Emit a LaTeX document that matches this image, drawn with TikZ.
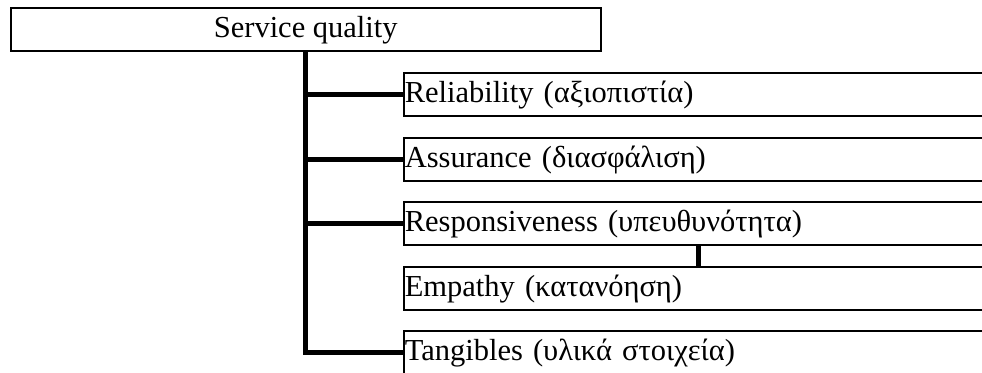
\documentclass[tikz,border=0pt]{standalone}
\usepackage{fontspec}
\setmainfont{Liberation Serif}
\usetikzlibrary{calc}
\begin{document}
\begin{tikzpicture}[x=1pt,y=-1pt,
  font=\fontsize{30.5}{36}\selectfont,
  headbox/.style={draw, line width=1.5pt, minimum width=590pt, minimum height=43pt,
    inner sep=0pt, text height=30pt, text depth=13pt, anchor=north west},
  itembox/.style={draw, line width=1.5pt, anchor=north west, inner ysep=0pt, inner xsep=1pt,
    text width=640pt, align=left, text height=30pt, text depth=13pt},
  link/.style={line width=5pt, line join=miter}]
  \useasboundingbox (0,0) rectangle (982,372);
  \clip (0,0) rectangle (982,372);
  \fill[white] (0,0) rectangle (982,372);

  % root
  \node[headbox] (root) at (10,7) {Service quality};

  % dimensions
  \node[itembox] (rel) at (403,72)  {Reliability (αξιοπιστία)};
  \node[itembox] (ass) at (403,137) {Assurance (διασφάλιση)};
  \node[itembox] (res) at (403,201) {Responsiveness (υπευθυνότητα)};
  \node[itembox] (emp) at (403,266) {Empathy (κατανόηση)};
  \node[itembox] (tan) at (403,330) {Tangibles (υλικά στοιχεία)};

  % tree connectors
  \draw[link] (root.south) |- (tan.west);
  \draw[link] (root.south) |- (rel.west);
  \draw[link] (root.south) |- (ass.west);
  \draw[link] (root.south) |- (res.west);
  \draw[link] ($(res.south west)+(295,0)$) -- ($(emp.north west)+(295,0)$);
\end{tikzpicture}
\end{document}
